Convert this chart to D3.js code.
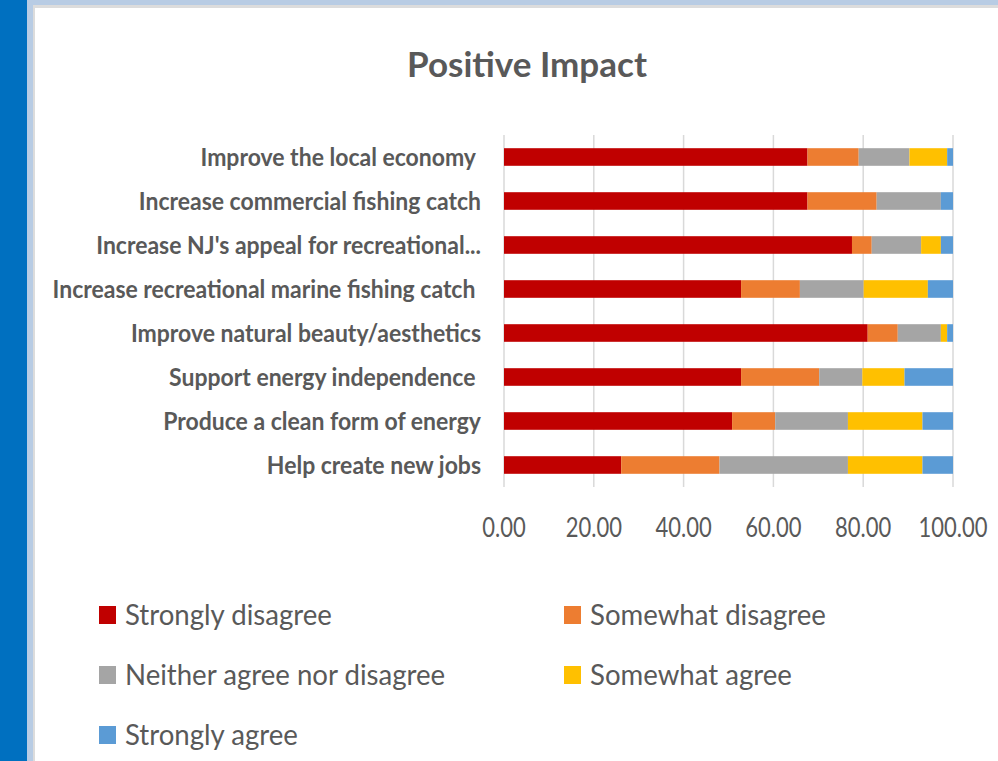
<!DOCTYPE html>
<html>
<head>
<meta charset="utf-8">
<script src="https://cdn.jsdelivr.net/npm/d3@7"></script>
<style>
  body { margin: 0; background: #fff; }
  text { font-family: Lato, "Open Sans", sans-serif; fill: #595959; }
</style>
</head>
<body>
<div id="chart"></div>
<script>
// "Positive Impact" - stacked agreement bars

const width = 998, height = 761;

// data
const categories = [
  "Improve the local economy ",
  "Increase commercial fishing catch",
  "Increase NJ's appeal for recreational...",
  "Increase recreational marine fishing catch ",
  "Improve natural beauty/aesthetics",
  "Support energy independence ",
  "Produce a clean form of energy",
  "Help create new jobs"
];
const seriesNames = ["Strongly disagree", "Somewhat disagree", "Neither agree nor disagree", "Somewhat agree", "Strongly agree"];
const stronglyDisagree = [67.6, 67.6, 77.5, 52.8, 81.0, 52.8, 50.8, 26.1];
const somewhatDisagree = [11.4, 15.4, 4.4, 13.1, 6.7, 17.4, 9.6, 21.9];
const neitherAgree     = [11.3, 14.3, 11.0, 14.2, 9.6, 9.6, 16.2, 28.6];
const somewhatAgree    = [8.4, 0.0, 4.4, 14.3, 1.4, 9.4, 16.6, 16.6];
const stronglyAgree    = [1.3, 2.7, 2.7, 5.6, 1.3, 10.8, 6.8, 6.8];
const xTicks = [0, 20, 40, 60, 80, 100];

const colors = ["#C00000", "#ED7D31", "#A5A5A5", "#FFC000", "#5B9BD5"];

// build rows for the stack
const columns = [stronglyDisagree, somewhatDisagree, neitherAgree, somewhatAgree, stronglyAgree];
const rows = categories.map(function(c, i) {
  var r = { cat: c };
  seriesNames.forEach(function(s, j) { r[s] = columns[j][i]; });
  return r;
});
const stacked = d3.stack().keys(seriesNames)(rows);

const svg = d3.select("#chart").append("svg")
  .attr("width", width)
  .attr("height", height);

// slide frame
svg.append("rect").attr("x", 0).attr("y", 0).attr("width", width).attr("height", 5).attr("fill", "#B8CCE4");
svg.append("rect").attr("x", 27).attr("y", 0).attr("width", 6).attr("height", height).attr("fill", "#B8CCE4");
svg.append("rect").attr("x", 0).attr("y", 0).attr("width", 27).attr("height", height).attr("fill", "#0070C0");
svg.append("rect").attr("x", 33).attr("y", 5).attr("width", width - 33).attr("height", 3).attr("fill", "#DCDCDC");
svg.append("rect").attr("x", 33).attr("y", 5).attr("width", 2).attr("height", height).attr("fill", "#DCDCDC");

// scales
const x = d3.scaleLinear().domain([0, 100]).range([504, 953]);
const y = d3.scaleBand().domain(categories).range([135, 487]).paddingInner(0.6).paddingOuter(0.3);

// gridlines
svg.append("g")
  .selectAll("line")
  .data(xTicks)
  .join("line")
  .attr("x1", d => x(d)).attr("x2", d => x(d))
  .attr("y1", 135).attr("y2", 487)
  .attr("stroke", "#D9D9D9")
  .attr("stroke-width", 1.5);

// bars
svg.append("g")
  .selectAll("g")
  .data(stacked)
  .join("g")
  .attr("fill", (d, i) => colors[i])
  .selectAll("rect")
  .data(d => d)
  .join("rect")
  .attr("x", d => x(d[0]))
  .attr("width", d => x(d[1]) - x(d[0]))
  .attr("y", d => y(d.data.cat))
  .attr("height", y.bandwidth());

// category labels (text is a bit taller than wide in the original)
svg.append("g")
  .selectAll("text")
  .data(categories)
  .join("text")
  .attr("transform", d => "translate(481," + (y(d) + y.bandwidth() / 2 + 9) + ") scale(1,1.1)")
  .attr("text-anchor", "end")
  .attr("font-size", 23)
  .attr("font-weight", "bold")
  .text(d => d.replace(/ $/, "\u00a0"));

// x tick labels
svg.append("g")
  .selectAll("text")
  .data(xTicks)
  .join("text")
  .attr("transform", d => "translate(" + x(d) + ",537) scale(1,1.22)")
  .attr("text-anchor", "middle")
  .attr("font-size", 22)
  .text(d => d3.format(".2f")(d));

// title
svg.append("text")
  .attr("x", 527)
  .attr("y", 77)
  .attr("text-anchor", "middle")
  .attr("font-size", 35)
  .attr("font-weight", "bold")
  .text("Positive Impact");

// legend
const legend = svg.append("g")
  .selectAll("g")
  .data(seriesNames)
  .join("g")
  .attr("transform", (d, i) => "translate(" + (i % 2 === 0 ? 99 : 564) + "," + (606 + Math.floor(i / 2) * 60) + ")");

legend.append("rect")
  .attr("width", 17).attr("height", 18)
  .attr("fill", (d, i) => colors[i]);

legend.append("text")
  .attr("transform", "translate(26,19) scale(1,1.05)")
  .attr("font-size", 27.6)
  .text(d => d);
</script>
</body>
</html>
